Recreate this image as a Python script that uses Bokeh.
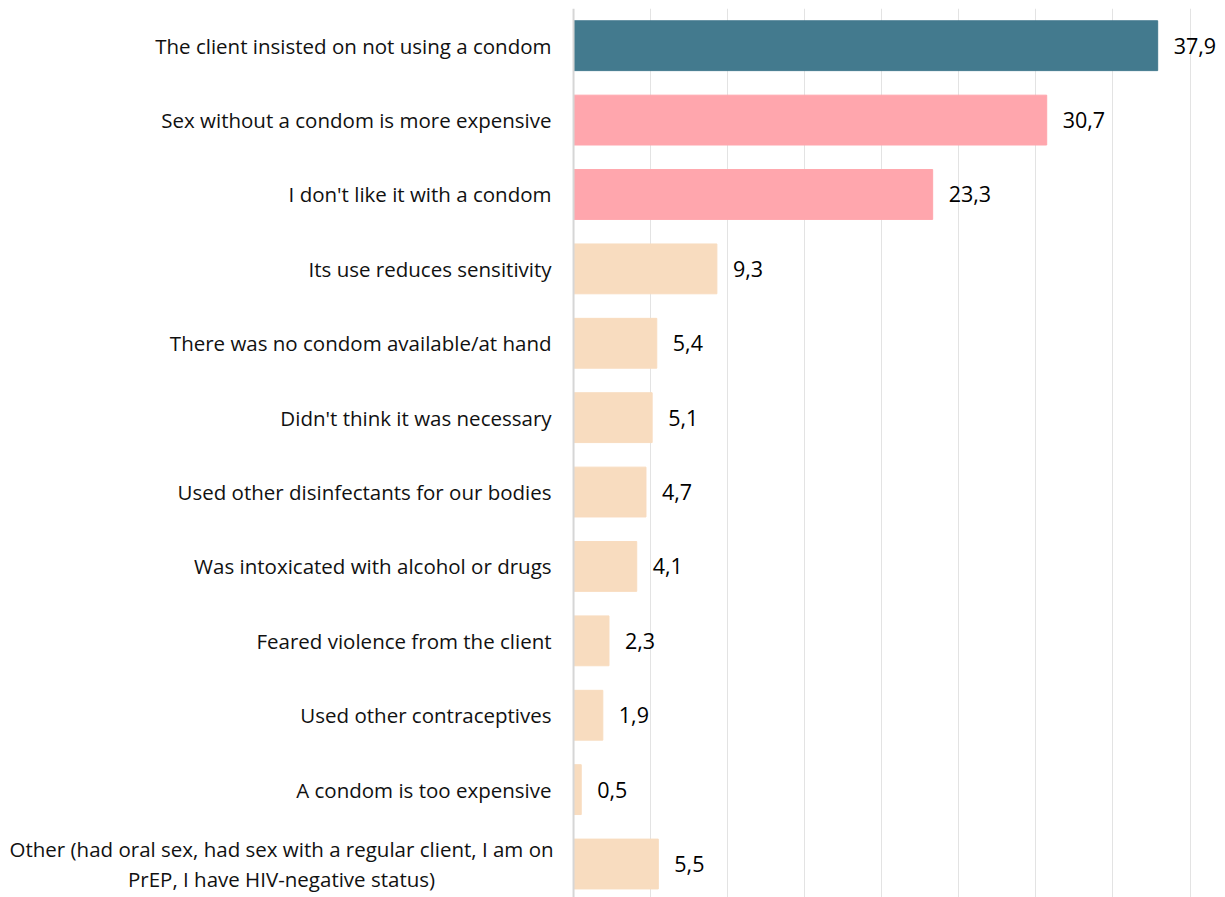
from bokeh.plotting import figure
from bokeh.models import ColumnDataSource, Span, Range1d, FixedTicker
from bokeh.embed import file_html
from bokeh.resources import INLINE
from bokeh.core.properties import value

categories = [
    "The client insisted on not using a condom",
    "Sex without a condom is more expensive",
    "I don't like it with a condom",
    "Its use reduces sensitivity",
    "There was no condom available/at hand",
    "Didn't think it was necessary",
    "Used other disinfectants for our bodies",
    "Was intoxicated with alcohol or drugs",
    "Feared violence from the client",
    "Used other contraceptives",
    "A condom is too expensive",
    "Other (had oral sex, had sex with a regular client, I am on\nPrEP, I have HIV-negative status)",
]
values = [37.9, 30.7, 23.3, 9.3, 5.4, 5.1, 4.7, 4.1, 2.3, 1.9, 0.5, 5.5]
value_labels = ["37,9", "30,7", "23,3", "9,3", "5,4", "5,1", "4,7", "4,1", "2,3", "1,9", "0,5", "5,5"]
groups = ["top", "high", "high", "rest", "rest", "rest", "rest", "rest", "rest", "rest", "rest", "rest"]
palette = {"top": "#437a8e", "high": "#ffa6ad", "rest": "#f8dcbf"}
colors = [palette[g] for g in groups]
grid_ticks = [5, 10, 15, 20, 25, 30, 35, 40]

ypos = list(range(len(categories)))
src = ColumnDataSource(dict(y=ypos, val=values, lab=value_labels, color=colors))

single = [i for i, c in enumerate(categories) if "\n" not in c]
multi = [i for i, c in enumerate(categories) if "\n" in c]
src_single = ColumnDataSource(dict(y=[ypos[i] for i in single], cat=[categories[i] for i in single],
                                   x=[0] * len(single)))
src_multi = ColumnDataSource(dict(y=[ypos[i] for i in multi], cat=[categories[i] for i in multi],
                                  x=[0] * len(multi)))

FONT = "Open Sans"

p = figure(
    width=1225, height=897,
    y_range=Range1d(len(categories) - 0.55, -0.5),
    x_range=Range1d(-37.18, 42.3),
    output_backend="svg", toolbar_location=None,
    min_border_left=0, min_border_right=0, min_border_top=8, min_border_bottom=0,
)
p.outline_line_color = None
p.background_fill_color = "white"
p.border_fill_color = "white"
p.xaxis.visible = False
p.yaxis.visible = False

p.xgrid.ticker = FixedTicker(ticks=grid_ticks)
p.xgrid.grid_line_color = "#e3e3e3"
p.xgrid.grid_line_width = 1
p.ygrid.grid_line_color = None
p.add_layout(Span(location=0, dimension="height", line_color="#d6d6d6", line_width=2))

p.hbar(y="y", right="val", left=0, height=0.67, color="color", source=src)
p.text(x="val", y="y", text="lab", source=src, x_offset=16, text_baseline="middle",
       text_align="left", text_font=value(FONT), text_font_size="21.5px", text_color="#000000")

p.text(x="x", y="y", text="cat", source=src_single, x_offset=-22, text_baseline="middle",
       text_align="right", text_font=value(FONT), text_font_size="20.5px", text_color="#111111")
p.text(x="x", y="y", text="cat", source=src_multi, x_offset=-292, text_baseline="middle",
       text_align="center", text_font=value(FONT), text_font_size="20.5px", text_color="#111111",
       text_line_height=1.05)

open("out.html", "w").write(file_html(p, INLINE))
